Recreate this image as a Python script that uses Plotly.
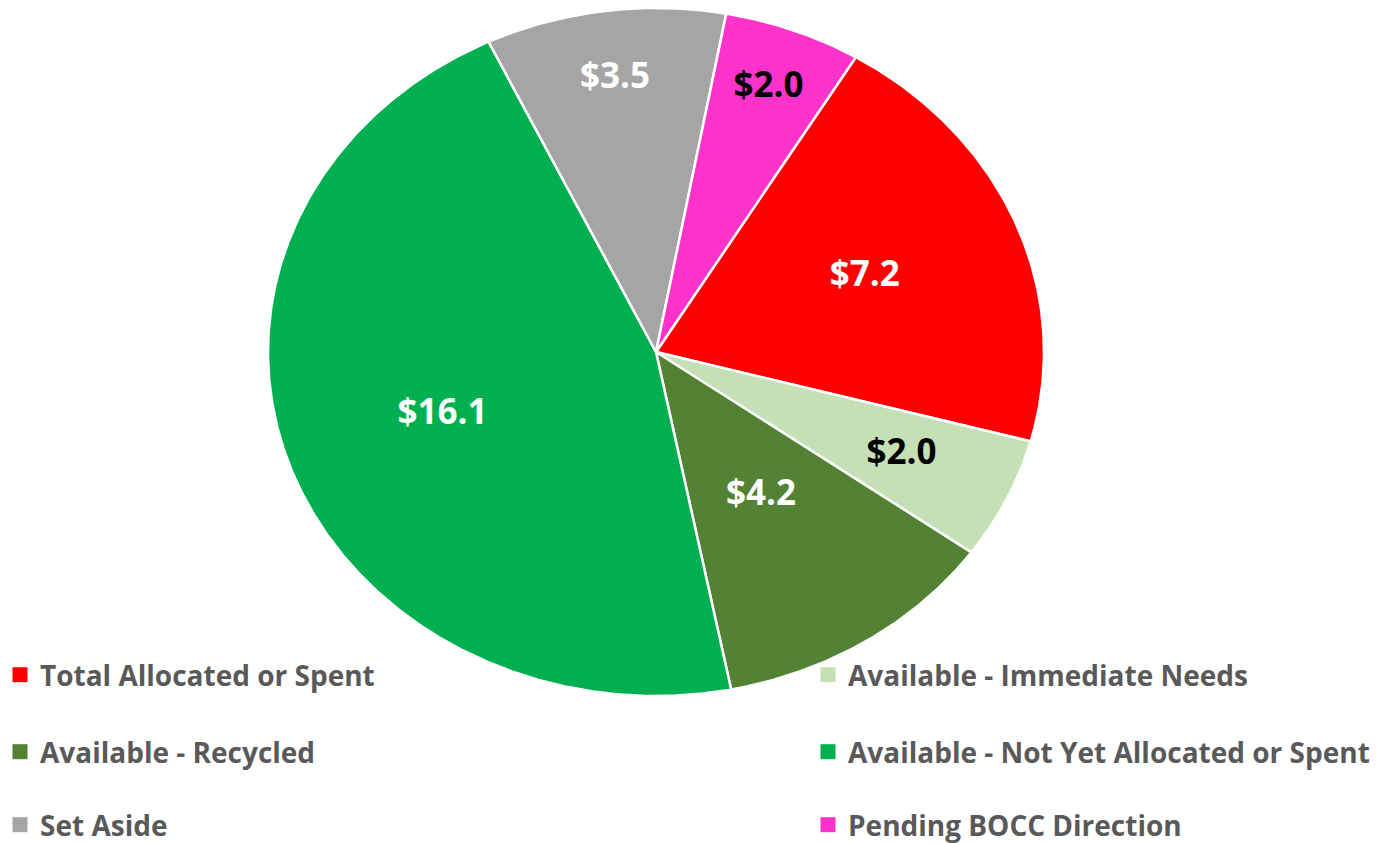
import numpy as np
import plotly.graph_objects as go

# ---- data ----
categories = [
    "Total Allocated or Spent",
    "Available - Immediate Needs",
    "Available - Recycled",
    "Available - Not Yet Allocated or Spent",
    "Set Aside",
    "Pending BOCC Direction",
]
values = [7.2, 2.0, 4.2, 16.1, 3.5, 2.0]

# ---- styles ----
colors = ["#FF0000", "#C5E0B4", "#548235", "#00B050", "#A5A5A5", "#FF33CC"]
text_colors = ["white", "black", "white", "white", "white", "black"]
label_r = [0.58, 0.70, 0.50, 0.58, 0.80, 0.82]

W, H = 1392, 843
CX, CY = 656, 352      # ellipse centre (px)
RX, RY = 388, 344      # ellipse radii (px)
START = 31.0           # first slice angle, degrees clockwise from 12 o'clock

legend_pos = [(0, 675), (808, 675), (0, 752), (808, 752), (0, 825), (808, 825)]

fig = go.Figure()

total = sum(values)
ang = START
lx, ly, ltxt = [], [], []
for i, (cat, v) in enumerate(zip(categories, values)):
    span = v / total * 360.0
    th = np.radians(np.linspace(ang, ang + span, max(int(span * 3), 4)))
    xs = np.concatenate([[CX], CX + RX * np.sin(th), [CX]])
    ys = np.concatenate([[CY], CY - RY * np.cos(th), [CY]])
    fig.add_trace(go.Scatter(
        x=xs, y=ys, fill="toself", fillcolor=colors[i], mode="lines",
        line=dict(color="white", width=2.5), hoverinfo="skip", showlegend=False,
    ))
    mid = np.radians(ang + span / 2)
    lx.append(CX + label_r[i] * RX * np.sin(mid))
    ly.append(CY - label_r[i] * RY * np.cos(mid))
    ltxt.append(f"${v:.1f}")
    ang += span

fig.add_trace(go.Scatter(
    x=lx, y=ly, mode="text", text=ltxt,
    textfont=dict(family="Open Sans", size=35, color=text_colors, weight="bold"),
    hoverinfo="skip", showlegend=False,
))

layout_legends = {}
for i, cat in enumerate(categories):
    key = "legend" if i == 0 else f"legend{i + 1}"
    fig.add_trace(go.Scatter(
        x=[None], y=[None], mode="markers", name=cat,
        marker=dict(symbol="square", size=15, color=colors[i]),
        legend=key, showlegend=True,
    ))
    px, py = legend_pos[i]
    layout_legends[key] = dict(
        x=px / W, y=1 - py / H, xanchor="left", yanchor="middle",
        bgcolor="rgba(0,0,0,0)", borderwidth=0,
        font=dict(family="Open Sans", size=28, color="#595959", weight="bold"),
    )

fig.update_layout(
    width=W, height=H,
    margin=dict(l=0, r=0, t=0, b=0, autoexpand=False),
    paper_bgcolor="white", plot_bgcolor="white",
    xaxis=dict(range=[0, W], visible=False, fixedrange=True),
    yaxis=dict(range=[H, 0], visible=False, fixedrange=True),
    showlegend=True,
    **layout_legends,
)

fig.write_html("out.html")
